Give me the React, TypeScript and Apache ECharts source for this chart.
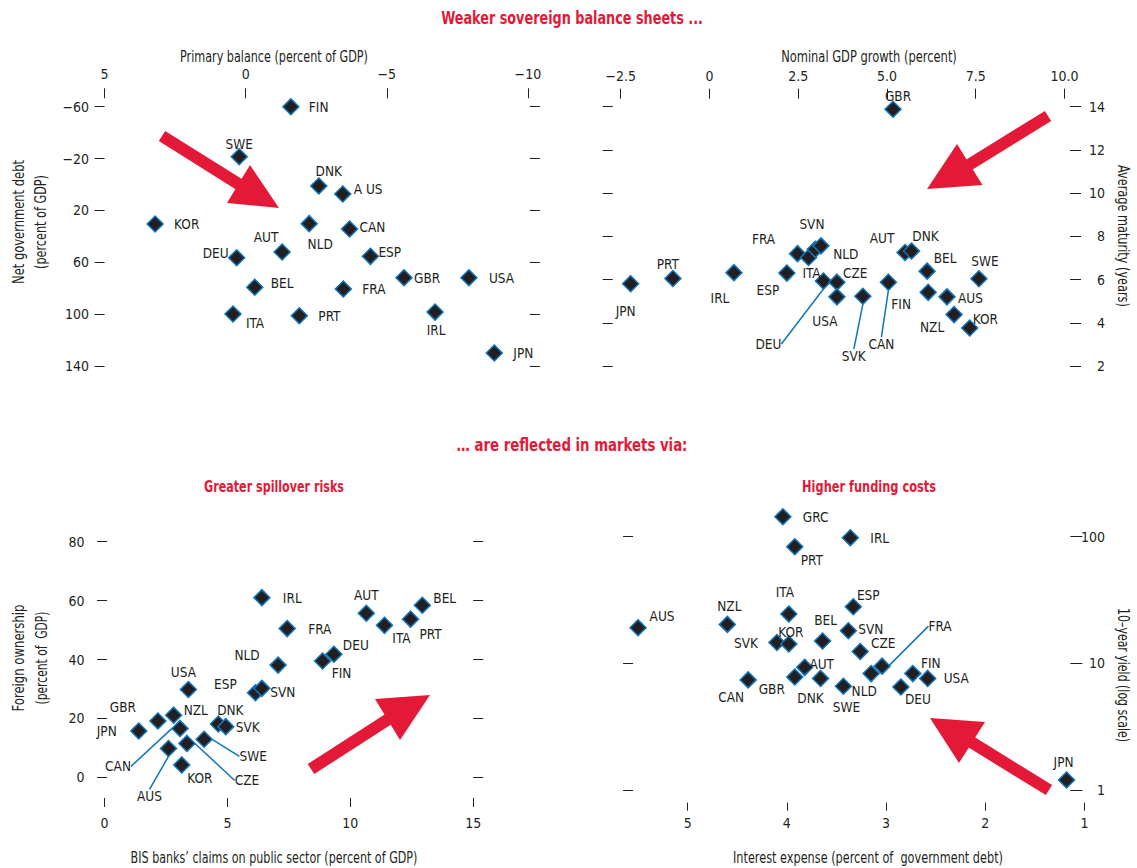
import { useEffect, useRef } from 'react';
import * as echarts from 'echarts';

const FONT = "'Liberation Sans Narrow','DejaVu Sans Condensed','Liberation Sans',sans-serif";
const INK = '#231F20';
const RED = '#E31937';
const BLUE = '#0F75BC';

// ---------- Panel 1: primary balance vs net government debt ----------
const p1Countries = ['FIN', 'SWE', 'DNK', 'A US', 'KOR', 'NLD', 'CAN', 'AUT', 'DEU', 'ESP', 'GBR', 'USA', 'BEL', 'FRA', 'ITA', 'PRT', 'IRL', 'JPN'];
const p1PrimaryBalance = [-1.6, 0.23, -2.59, -3.44, 3.21, -2.25, -3.68, -1.29, 0.32, -4.42, -5.61, -7.91, -0.32, -3.46, 0.45, -1.9, -6.71, -8.81];
const p1NetDebt = [-60, -21.4, 1.2, 7.3, 30.5, 30.2, 34.3, 52.1, 56.5, 55.4, 71.9, 71.9, 79.3, 80.6, 99.9, 101.2, 98.4, 130];
const p1XTicks = [-10, -5, 0, 5];
const p1YTicks = [-60, -20, 20, 60, 100, 140];

// ---------- Panel 2: nominal GDP growth vs average maturity ----------
const p2Countries = ['GBR', 'JPN', 'PRT', 'IRL', 'ESP', 'FRA', 'ITA', 'NLD', 'SVN', 'DEU', 'CZE', 'USA', 'SVK', 'CAN', 'AUT', 'DNK', 'BEL', 'FIN', 'SWE', 'AUS', 'NZL', 'KOR'];
const p2GdpGrowth = [5.17, -2.22, -1.03, 0.69, 2.18, 2.48, 2.79, 2.98, 3.14, 3.21, 3.59, 3.59, 4.32, 5.04, 5.51, 5.69, 6.13, 6.16, 7.59, 6.69, 6.89, 7.33];
const p2Maturity = [13.88, 5.81, 6.05, 6.32, 6.3, 7.2, 7.02, 7.4, 7.56, 5.93, 5.88, 5.2, 5.23, 5.88, 7.25, 7.32, 6.39, 5.41, 6.04, 5.2, 4.38, 3.76];
const p2XTicks = [-2.5, 0, 2.5, 5, 7.5, 10];
const p2YTicks = [2, 4, 6, 8, 10, 12, 14];

// ---------- Panel 3: BIS banks' claims vs foreign ownership ----------
const p3Countries = ['JPN', 'GBR', 'NZL', 'CAN', 'AUS', 'CZE', 'SWE', 'KOR', 'DNK', 'SVK', 'USA', 'ESP', 'SVN', 'NLD', 'FIN', 'DEU', 'IRL', 'FRA', 'AUT', 'ITA', 'PRT', 'BEL'];
const p3BisClaims = [1.39, 2.17, 2.81, 3.07, 2.6, 3.35, 4.05, 3.14, 4.63, 4.93, 3.41, 6.14, 6.4, 7.06, 8.87, 9.33, 6.4, 7.43, 10.65, 11.39, 12.45, 12.93];
const p3ForeignOwn = [15.7, 19.1, 21.1, 16.6, 9.8, 11.5, 12.9, 4.2, 18.1, 17.2, 29.8, 28.7, 30.2, 38.1, 39.5, 41.8, 61.0, 50.5, 55.7, 51.6, 53.7, 58.4];
const p3XTicks = [0, 5, 10, 15];
const p3YTicks = [0, 20, 40, 60, 80];

// ---------- Panel 4: interest expense vs 10-year yield ----------
const p4Countries = ['GRC', 'IRL', 'PRT', 'AUS', 'NZL', 'ITA', 'ESP', 'SVN', 'BEL', 'SVK', 'KOR', 'CZE', 'FRA', 'NLD', 'AUT', 'GBR', 'DNK', 'SWE', 'CAN', 'FIN', 'USA', 'DEU', 'JPN'];
const p4InterestExp = [4.04, 3.36, 3.92, 5.5, 4.6, 3.98, 3.33, 3.38, 3.64, 4.1, 3.98, 3.26, 3.04, 3.15, 3.82, 3.92, 3.66, 3.43, 4.39, 2.73, 2.58, 2.85, 1.18];
const p4Yield = [143.6, 98, 83.3, 19.1, 20.3, 24.5, 28.0, 18.1, 15.0, 14.6, 14.2, 12.4, 9.5, 8.3, 9.3, 7.8, 7.6, 6.6, 7.4, 8.3, 7.6, 6.5, 1.2];
const p4XTicks = [1, 2, 3, 4, 5];
const p4YTicks = [1, 10, 100];

// ---------- label placement (layout only): [dx, dy, align, leaderLine] ----------
type Place = [number, number, 'left' | 'right' | 'center', boolean?];
const p1Labels: Record<string, Place> = {
  FIN: [18, 0, 'left'], SWE: [0, -13, 'center'], DNK: [10, -15, 'center'], 'A US': [11, -5, 'left'],
  KOR: [19, 0, 'left'], NLD: [11, 20, 'center'], CAN: [10, -2, 'left'], AUT: [-16, -15, 'center'],
  DEU: [-8, -5, 'right'], ESP: [8, -4, 'left'], GBR: [10, 0, 'left'], USA: [20, 0, 'left'],
  BEL: [16, -4, 'left'], FRA: [19, 0, 'left'], ITA: [22, 9, 'center'], PRT: [19, 0, 'left'],
  IRL: [1, 18, 'center'], JPN: [19, 0, 'left'],
};
const p2Labels: Record<string, Place> = {
  GBR: [5, -13, 'center'], JPN: [-5, 27, 'center'], PRT: [-5, -14, 'center'], IRL: [-14, 25, 'center'],
  ESP: [-19, 17, 'center'], FRA: [-34, -15, 'center'], SVN: [-9, -22, 'center'], NLD: [18, 5, 'left'],
  ITA: [3, 15, 'center'], DEU: [-55, 63, 'center', true], CZE: [6, -9, 'left'], USA: [-12, 24, 'center'],
  SVK: [-9, 60, 'center', true], CAN: [-7, 62, 'center', true], FIN: [-27, 12, 'center'], AUT: [-23, -15, 'center'],
  DNK: [14, -15, 'center'], BEL: [18, -13, 'center'], SWE: [6, -18, 'center'], AUS: [11, 1, 'left'],
  NZL: [-22, 12, 'center'], KOR: [3, -9, 'left'],
};
const p3Labels: Record<string, Place> = {
  IRL: [21, 0, 'left'], FRA: [21, 0, 'left'], AUT: [0, -18, 'center'], ITA: [17, 13, 'center'],
  PRT: [20, 15, 'center'], BEL: [11, -7, 'left'], DEU: [9, -9, 'left'], FIN: [19, 12, 'center'],
  NLD: [-31, -10, 'center'], USA: [-5, -18, 'center'], ESP: [-30, -9, 'center'], SVN: [21, 4, 'center'],
  GBR: [-35, -14, 'center'], JPN: [-22, 0, 'right'], NZL: [10, -5, 'left'], DNK: [12, -14, 'center'],
  SVK: [10, 0, 'left'], CAN: [-62, 38, 'center', true], AUS: [-19, 48, 'center', true],
  CZE: [60, 37, 'center', true], SWE: [49, 17, 'center', true], KOR: [18, 13, 'center'],
};
const p4Labels: Record<string, Place> = {
  GRC: [20, 0, 'left'], IRL: [20, 0, 'left'], PRT: [17, 13, 'center'], AUS: [24, -12, 'center'],
  NZL: [2, -18, 'center'], ITA: [-4, -22, 'center'], ESP: [15, -12, 'center'], SVN: [10, -2, 'left'],
  BEL: [3, -21, 'center'], SVK: [-19, 0, 'right'], KOR: [2, -12, 'center'], CZE: [23, -8, 'center'],
  FRA: [58, -40, 'center', true], AUT: [17, -3, 'center'], GBR: [-23, 12, 'center'], DNK: [-10, 20, 'center'],
  SWE: [3, 21, 'center'], NLD: [-7, 17, 'center'], CAN: [-17, 17, 'center'], FIN: [18, -11, 'center'],
  USA: [16, 0, 'left'], DEU: [17, 12, 'center'], JPN: [-3, -18, 'center'],
};

const minus = (s: string) => s.replace('-', '\u2212');

function makeSeries(idx: number, countries: string[], xs: number[], ys: number[], places: Record<string, Place>) {
  return {
    type: 'scatter',
    xAxisIndex: idx,
    yAxisIndex: idx * 2,
    symbol: 'diamond',
    symbolSize: 16,
    clip: false,
    itemStyle: { color: INK, borderColor: BLUE, borderWidth: 1.5, opacity: 1 },
    label: { show: true, position: 'inside', formatter: '{b}', color: INK, fontFamily: FONT, fontSize: 13.5, textBorderWidth: 0 },
    labelLine: { show: false, length2: 0, lineStyle: { color: BLUE, width: 1.5 } },
    labelLayout: (p: any) => {
      const pl = places[countries[p.dataIndex]];
      const r = p.rect;
      return { x: r.x + r.width / 2 + pl[0], y: r.y + r.height / 2 + pl[1], align: pl[2], verticalAlign: 'middle' };
    },
    emphasis: { disabled: true },
    data: countries.map((c, i) => ({
      name: c,
      value: [xs[i], ys[i]],
      labelLine: places[c][3] ? { show: true, length2: 0, lineStyle: { color: BLUE, width: 1.5 } } : { show: false },
    })),
  };
}

const tickStyle = { color: INK, width: 1 };
const lblBase = { color: INK, fontFamily: FONT, fontSize: 14 };
const noLine = { show: false, onZero: false };

function arrow(tail: number[], tip: number[], a: number[], b: number[]) {
  const mid = [(a[0] + b[0]) / 2, (a[1] + b[1]) / 2];
  const dx = tip[0] - mid[0], dy = tip[1] - mid[1];
  const len = Math.hypot(dx, dy);
  const end = [mid[0] + (dx / len) * 4, mid[1] + (dy / len) * 4];
  return [
    { type: 'line', z: 20, shape: { x1: tail[0], y1: tail[1], x2: end[0], y2: end[1] }, style: { stroke: RED, lineWidth: 12 } },
    { type: 'polygon', z: 20, shape: { points: [a, tip, b] }, style: { fill: RED } },
  ];
}

let measureCtx: CanvasRenderingContext2D | null = null;
function measure(text: string, size: number, bold: boolean) {
  if (!measureCtx) measureCtx = document.createElement('canvas').getContext('2d');
  if (!measureCtx) return 0;
  measureCtx.font = `${bold ? 'bold ' : ''}${size}px ${FONT}`;
  return measureCtx.measureText(text).width;
}

// text drawn at (x, y) centre, squeezed horizontally to the reference's narrow type width
function txt(text: string, x: number, y: number, width: number, opts: any = {}) {
  const size = opts.fontSize || 15;
  const bold = !!opts.bold;
  const w = measure(text, size, bold);
  const sx = w > 0 ? Math.min(1, width / w) : 1;
  return {
    type: 'text', x, y, rotation: opts.rotation || 0, scaleX: sx, z: 20,
    style: {
      text, fill: opts.fill || INK, fontFamily: FONT, fontSize: size,
      fontWeight: bold ? 'bold' : 'normal', align: 'center', verticalAlign: 'middle',
    },
  };
}

export default function App() {
  const ref = useRef<HTMLDivElement>(null);
  useEffect(() => {
    document.body.style.margin = '0';
    const chart = echarts.init(ref.current!, undefined, { renderer: 'svg' });
    const option: any = {
      animation: false,
      backgroundColor: '#ffffff',
      textStyle: { fontFamily: FONT },
      grid: [
        { left: 104.6, top: 106.7, width: 423.3, height: 259.3, outerBoundsMode: 'none', containLabel: false },
        { left: 620.7, top: 106.7, width: 443.8, height: 259.3, outerBoundsMode: 'none', containLabel: false },
        { left: 104.6, top: 541.7, width: 368.6, height: 235.6, outerBoundsMode: 'none', containLabel: false },
        { left: 633.1, top: 410, width: 451.3, height: 380, outerBoundsMode: 'none', containLabel: false },
      ],
      xAxis: [
        {
          gridIndex: 0, type: 'value', position: 'top', inverse: true, min: -10, max: 5, interval: 5, offset: 8.4,
          axisLine: noLine, splitLine: { show: false },
          axisTick: { show: true, length: 10, lineStyle: tickStyle, customValues: p1XTicks },
          axisLabel: { ...lblBase, margin: 17, customValues: p1XTicks, formatter: (v: number) => minus(String(v)) },
        },
        {
          gridIndex: 1, type: 'value', position: 'top', min: -2.5, max: 10, interval: 2.5, offset: 8,
          axisLine: noLine, splitLine: { show: false },
          axisTick: { show: true, length: 10, lineStyle: tickStyle, customValues: p2XTicks },
          axisLabel: { ...lblBase, margin: 16, customValues: p2XTicks, formatter: (v: number) => (v === 0 ? '0' : minus(v.toFixed(1))) },
        },
        {
          gridIndex: 2, type: 'value', position: 'bottom', min: 0, max: 15, interval: 5, offset: 20.7,
          axisLine: noLine, splitLine: { show: false },
          axisTick: { show: true, length: 9, lineStyle: tickStyle, customValues: p3XTicks },
          axisLabel: { ...lblBase, margin: 18, customValues: p3XTicks },
        },
        {
          gridIndex: 3, type: 'value', position: 'bottom', inverse: true, min: 1, max: 5.55, interval: 1, offset: 12.7,
          axisLine: noLine, splitLine: { show: false },
          axisTick: { show: true, length: 8, lineStyle: tickStyle, customValues: p4XTicks },
          axisLabel: { ...lblBase, margin: 13, customValues: p4XTicks },
        },
      ],
      yAxis: [
        {
          gridIndex: 0, type: 'value', position: 'left', inverse: true, min: -60, max: 140, interval: 40,
          axisLine: noLine, splitLine: { show: false },
          axisTick: { show: true, length: 10, lineStyle: tickStyle, customValues: p1YTicks },
          axisLabel: { ...lblBase, margin: 15.6, customValues: p1YTicks, formatter: (v: number) => minus(String(v)) },
        },
        {
          gridIndex: 0, type: 'value', position: 'right', inverse: true, min: -60, max: 140, interval: 40, offset: 2,
          axisLine: noLine, splitLine: { show: false },
          axisTick: { show: true, length: 10, lineStyle: tickStyle, customValues: p1YTicks },
          axisLabel: { show: false },
        },
        {
          gridIndex: 1, type: 'value', position: 'left', min: 2, max: 14, interval: 2, offset: 8,
          axisLine: noLine, splitLine: { show: false },
          axisTick: { show: true, length: 10, lineStyle: tickStyle, customValues: p2YTicks },
          axisLabel: { show: false },
        },
        {
          gridIndex: 1, type: 'value', position: 'right', min: 2, max: 14, interval: 2, offset: 5.5,
          axisLine: noLine, splitLine: { show: false },
          axisTick: { show: true, length: 11, lineStyle: tickStyle, customValues: p2YTicks },
          axisLabel: { ...lblBase, margin: 35, align: 'right', customValues: p2YTicks },
        },
        {
          gridIndex: 2, type: 'value', position: 'left', min: 0, max: 80, interval: 20, offset: -2.5,
          axisLine: noLine, splitLine: { show: false },
          axisTick: { show: true, length: 10, lineStyle: tickStyle, customValues: p3YTicks },
          axisLabel: { ...lblBase, margin: 22.5, customValues: p3YTicks },
        },
        {
          gridIndex: 2, type: 'value', position: 'right', min: 0, max: 80, interval: 20, offset: 0,
          axisLine: noLine, splitLine: { show: false },
          axisTick: { show: true, length: 10, lineStyle: tickStyle, customValues: p3YTicks },
          axisLabel: { show: false },
        },
        {
          gridIndex: 3, type: 'log', logBase: 10, position: 'left', min: 1, max: 1000,
          axisLine: noLine, splitLine: { show: false },
          axisTick: { show: true, length: 10, lineStyle: tickStyle, customValues: p4YTicks },
          axisLabel: { show: false },
        },
        {
          gridIndex: 3, type: 'log', logBase: 10, position: 'right', min: 1, max: 1000, offset: -14,
          axisLine: noLine, splitLine: { show: false },
          axisTick: { show: true, length: 12, lineStyle: tickStyle, customValues: p4YTicks },
          axisLabel: { ...lblBase, margin: 34.6, align: 'right', customValues: p4YTicks },
        },
      ],
      series: [
        makeSeries(0, p1Countries, p1PrimaryBalance, p1NetDebt, p1Labels),
        makeSeries(1, p2Countries, p2GdpGrowth, p2Maturity, p2Labels),
        makeSeries(2, p3Countries, p3BisClaims, p3ForeignOwn, p3Labels),
        makeSeries(3, p4Countries, p4InterestExp, p4Yield, p4Labels),
      ],
      graphic: [
        txt('Weaker sovereign balance sheets ...', 572, 18, 262, { fill: RED, bold: true, fontSize: 17 }),
        txt('\u2026 are reflected in markets via:', 572, 445, 231, { fill: RED, bold: true, fontSize: 17 }),
        txt('Greater spillover risks', 274, 487, 140, { fill: RED, bold: true, fontSize: 15 }),
        txt('Higher funding costs', 869, 487, 134, { fill: RED, bold: true, fontSize: 15 }),
        txt('Primary balance (percent of GDP)', 274, 56.7, 188),
        txt('Nominal GDP growth (percent)', 869, 57, 176),
        txt('BIS banks\u2019 claims on public sector (percent of GDP)', 274, 858, 287),
        txt('Interest expense (percent of  government debt)', 868, 858, 270),
        txt('Net government debt', 18.6, 222, 124, { rotation: Math.PI / 2 }),
        txt('(percent of GDP)', 41, 222, 94, { rotation: Math.PI / 2 }),
        txt('Foreign ownership', 18.6, 658, 107, { rotation: Math.PI / 2 }),
        txt('(percent of  GDP)', 41, 658, 93, { rotation: Math.PI / 2 }),
        txt('Average maturity (years)', 1123, 236, 142, { rotation: -Math.PI / 2 }),
        txt('10\u2013year yield (log scale)', 1123, 675, 134, { rotation: -Math.PI / 2 }),
        ...arrow([162, 136], [279, 208], [250, 165], [227, 203]),
        ...arrow([1048, 116], [927, 189], [957, 144], [982.5, 185]),
        ...arrow([311, 769], [430, 695], [375, 699], [400, 740]),
        ...arrow([1049, 790], [930, 718], [985, 722], [959, 763]),
      ],
    };
    chart.setOption(option);
    return () => chart.dispose();
  }, []);
  return <div ref={ref} style={{ position: 'absolute', left: 0, top: 0, width: 1137, height: 868 }} />;
}
